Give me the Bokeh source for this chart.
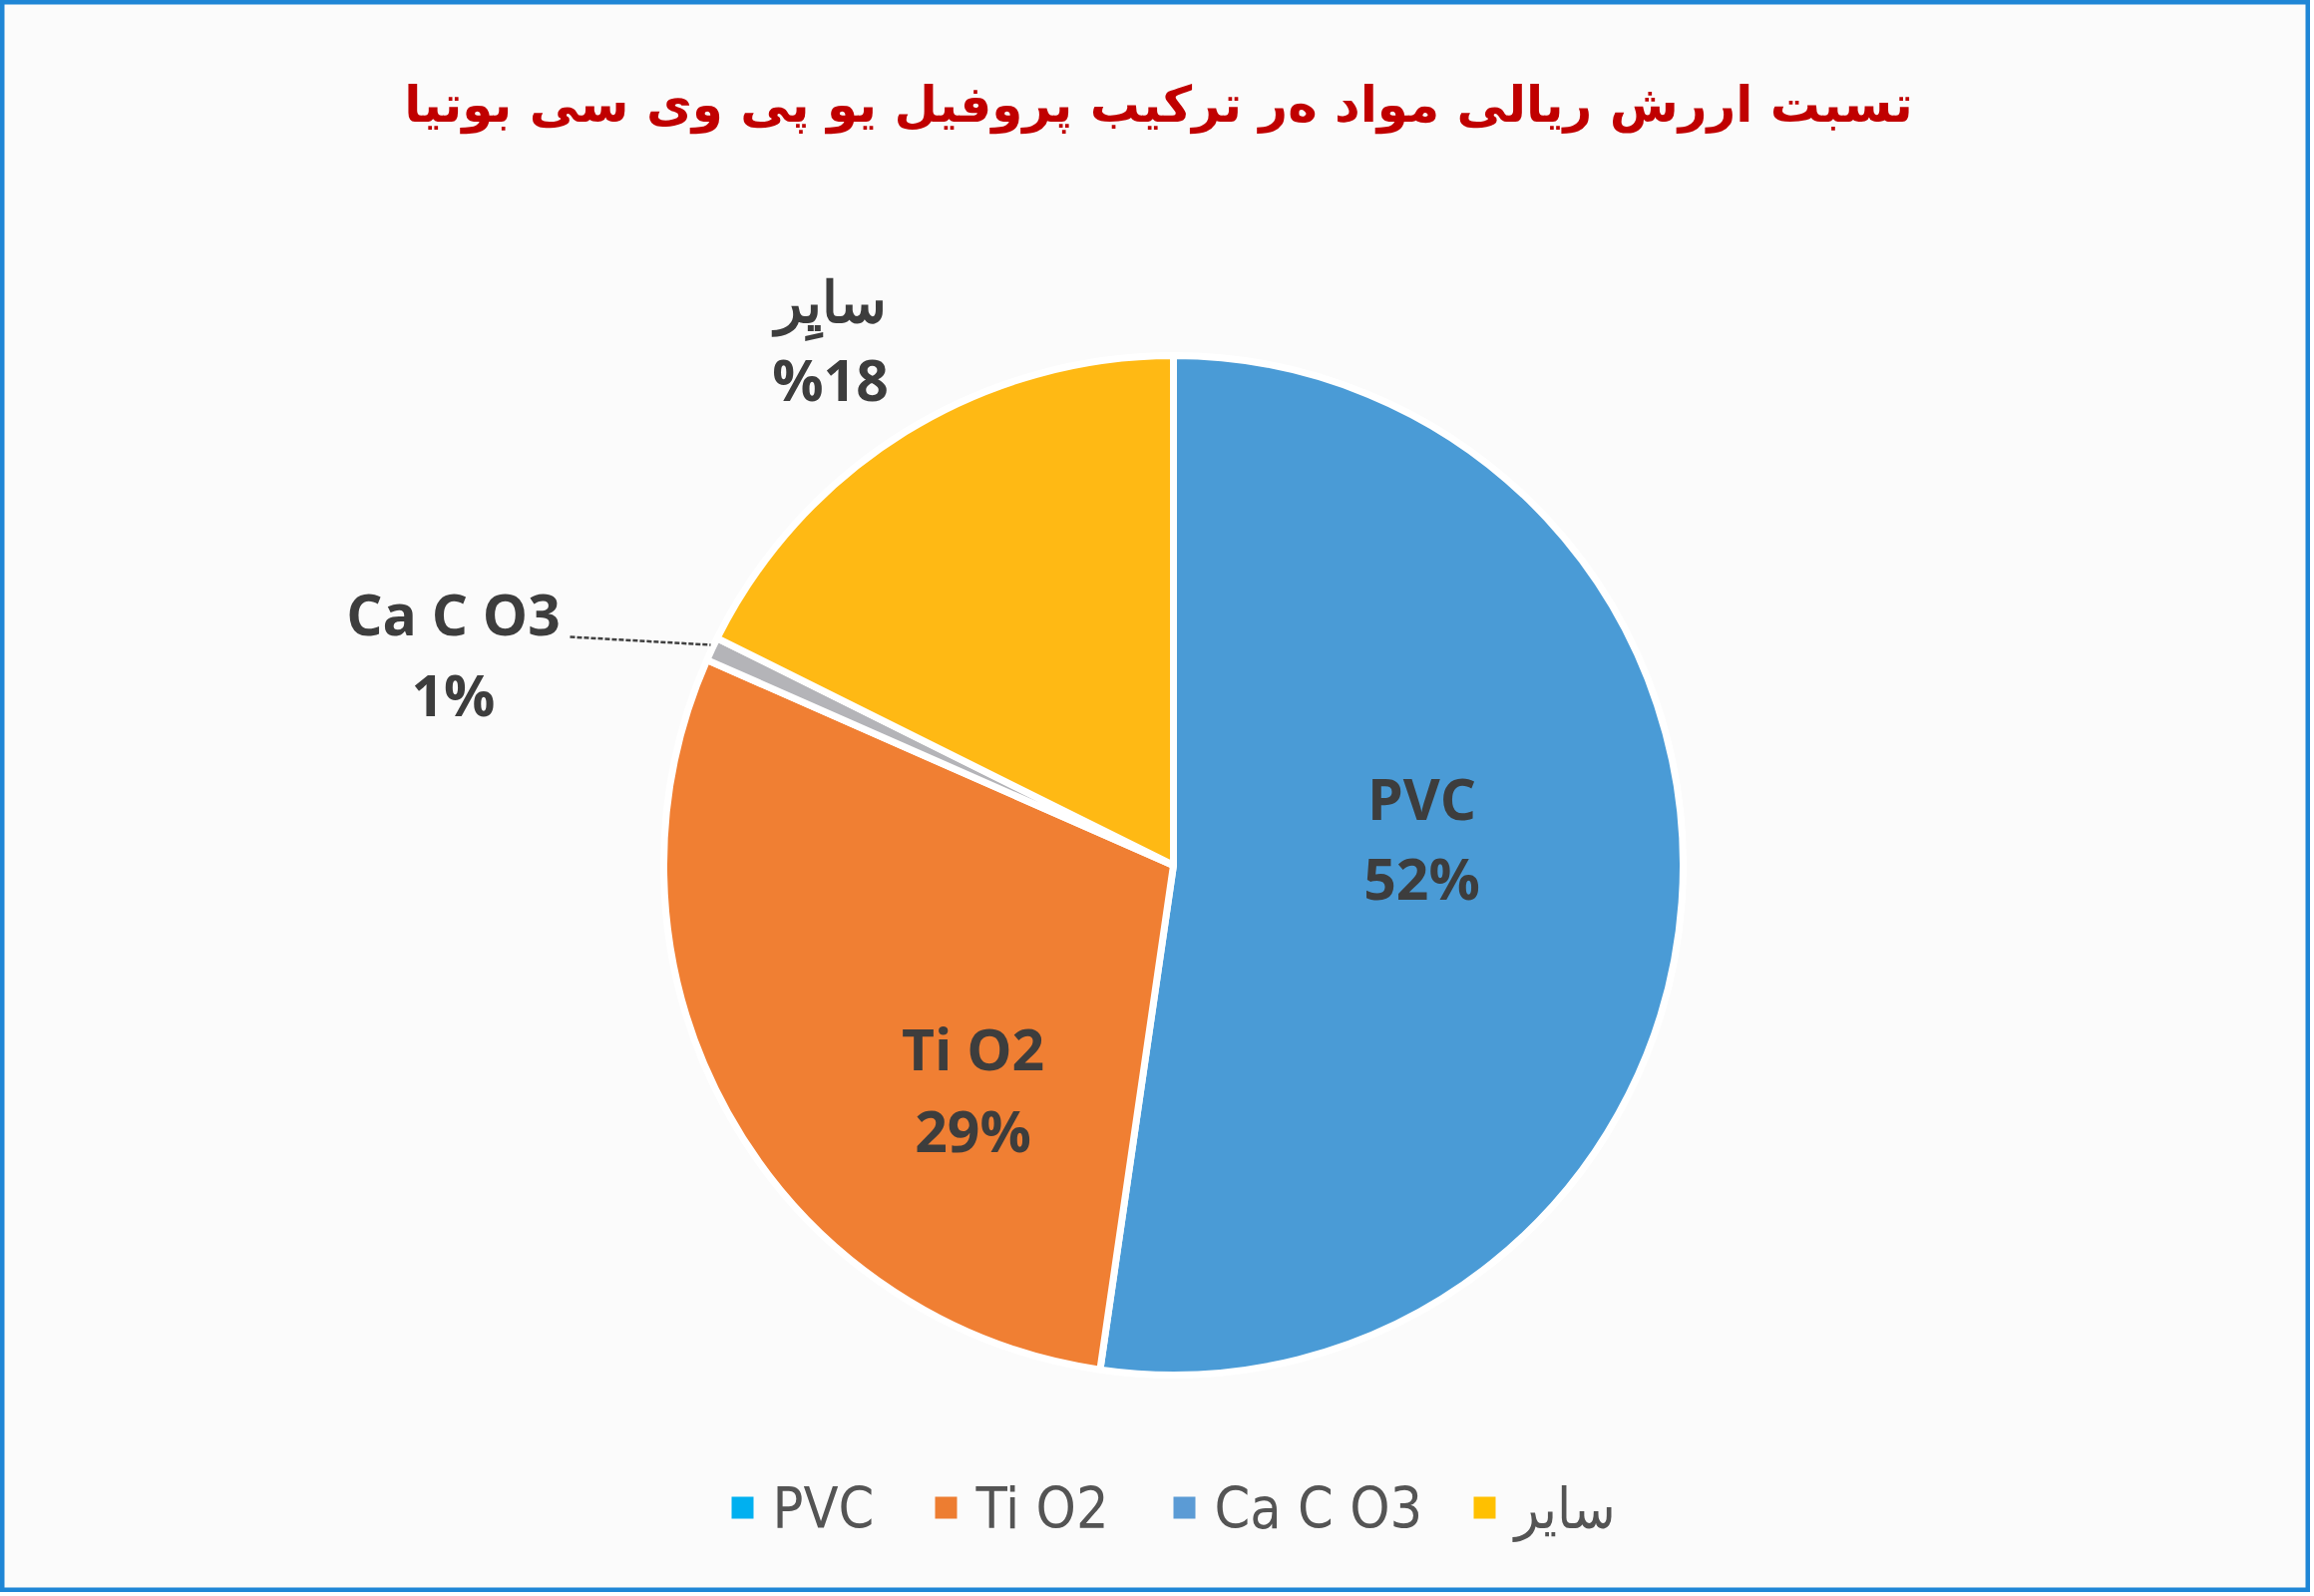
import numpy as np
from bokeh.plotting import figure
from bokeh.models import Range1d, ColumnDataSource
from bokeh.core.properties import value
from bokeh.embed import file_html
from bokeh.resources import INLINE

# ---- data ----
categories = ["PVC", "Ti O2", "Ca C O3", "سایر"]
shares = [52.3, 29.3, 0.75, 17.65]
pie_labels = ["PVC", "Ti O2", "Ca C O3", "سایِر"]
pct_labels = ["52%", "29%", "1%", "%18"]
slice_colors = ["#4a9bd6", "#f07f33", "#b4b4b8", "#ffb914"]
legend_colors = ["#00b0f0", "#ed7d31", "#5b9bd5", "#ffc000"]
title_text = "تسبت اررش ریالی مواد ەر ترکیب پروفیل یو پی وی سی بوتیا"

H = 1600
p = figure(width=2316, height=1596, output_backend="svg", toolbar_location=None,
           x_range=Range1d(0, 2316), y_range=Range1d(4, 1600), min_border=0)
p.axis.visible = False
p.grid.visible = False
p.background_fill_color = "#fbfbfb"
p.border_fill_color = "#fbfbfb"
p.outline_line_color = "#1f86d6"
p.outline_line_width = 8

def Y(y):
    return H - y

# ---- pie ----
cx, cy, R = 1176, Y(867), 511
frac = np.array(shares) / np.sum(shares)
cum = np.concatenate([[0], np.cumsum(frac)])
start = np.pi / 2 - cum[:-1] * 2 * np.pi
end = np.pi / 2 - cum[1:] * 2 * np.pi
src = ColumnDataSource(dict(start=start, end=end, color=slice_colors,
                            x=[cx] * 4, y=[cy] * 4))
p.wedge(x="x", y="y", radius=R, start_angle="start", end_angle="end",
        direction="clock", fill_color="color", line_color="white",
        line_width=7, source=src)

# ---- slice labels ----
lab_pos = [(1425, 799, 879), (975, 1050, 1132), (454, 614, 695), (832, 300, 379)]
for i, (lx, ly1, ly2) in enumerate(lab_pos):
    p.text(x=[lx], y=[Y(ly1)], text=[pie_labels[i]], text_align="center",
           text_baseline="middle", text_font=value("Open Sans"),
           text_font_style="bold", text_font_size="57px", text_color="#3d3d3d")
    p.text(x=[lx], y=[Y(ly2)], text=[pct_labels[i]], text_align="center",
           text_baseline="middle", text_font=value("Open Sans"),
           text_font_style="bold", text_font_size="57px", text_color="#3d3d3d")

# leader line for the small slice
p.line(x=[571, 712], y=[Y(638), Y(646)], line_color="#404040", line_width=2.5,
       line_dash="5 2")

# ---- title ----
p.text(x=[1161], y=[Y(104)], text=[title_text], text_align="center",
       text_baseline="middle", text_font=value("DejaVu Sans"),
       text_font_style="bold", text_font_size="50px", text_color="#c00000")

# ---- legend ----
leg_sq_x = [744, 948, 1187, 1488]
leg_y = Y(1511)
p.scatter(x=leg_sq_x, y=[leg_y] * 4, marker="square", size=22,
          fill_color=legend_colors, line_color=None)
for i, sx in enumerate(leg_sq_x):
    p.text(x=[sx + 30], y=[leg_y], text=[categories[i]], text_align="left",
           text_baseline="middle", text_font=value("DejaVu Sans Condensed"),
           text_font_size="57px", text_color="#545454")

open("out.html", "w").write(file_html(p, INLINE))
